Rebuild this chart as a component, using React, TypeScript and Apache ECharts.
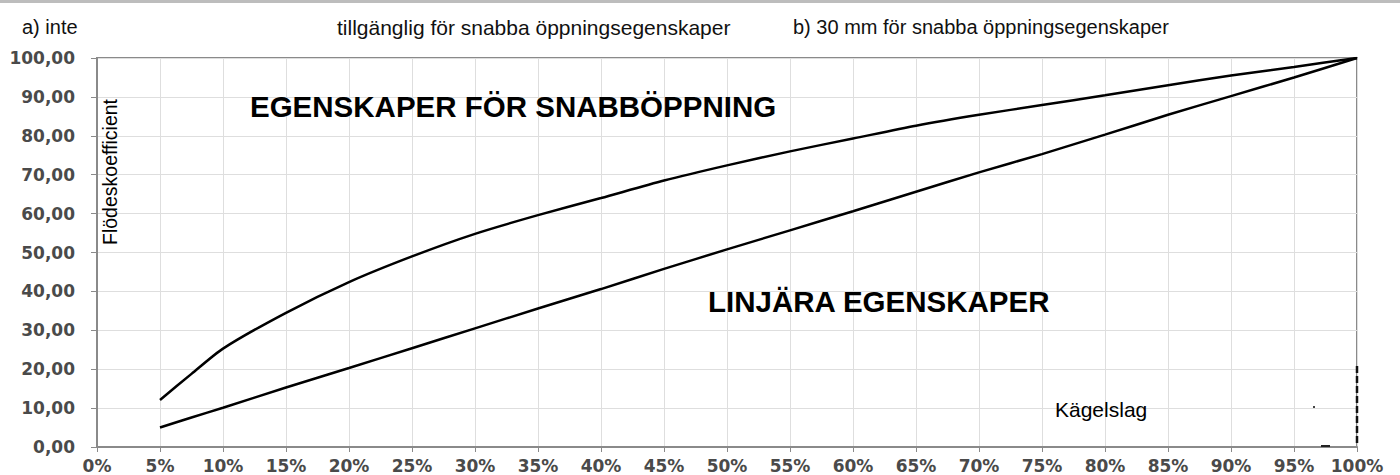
import React, { useEffect, useRef } from "react";
import * as echarts from "echarts";

// Stroke (Kägelslag) in percent
const strokePct = [5, 7.5, 10, 15, 20, 25, 30, 35, 40, 45, 50, 55, 60, 65, 70, 75, 80, 85, 90, 95, 100];
// Quick-opening characteristic (flow coefficient)
const quickOpening = [12.1, 18.8, 25.3, 34.5, 42.4, 49.0, 54.8, 59.6, 64.0, 68.5, 72.4, 76.0, 79.3, 82.6, 85.4, 87.9, 90.4, 93.0, 95.5, 97.7, 100];
// Linear characteristic (flow coefficient)
const linear = [5.0, 7.6, 10.1, 15.3, 20.3, 25.4, 30.5, 35.6, 40.6, 45.8, 50.8, 55.7, 60.6, 65.6, 70.6, 75.3, 80.3, 85.4, 90.2, 95.0, 100];

const yTicks = [0, 10, 20, 30, 40, 50, 60, 70, 80, 90, 100];
const xTicks = [0, 5, 10, 15, 20, 25, 30, 35, 40, 45, 50, 55, 60, 65, 70, 75, 80, 85, 90, 95, 100];

const topTexts = [
  "a) inte",
  "tillgänglig för snabba öppningsegenskaper",
  "b) 30 mm för snabba öppningsegenskaper",
];
const quickLabel = "EGENSKAPER FÖR SNABBÖPPNING";
const linearLabel = "LINJÄRA EGENSKAPER";
const yAxisTitle = "Flödeskoefficient";
const xAxisTitle = "Kägelslag";

const SANS = "'Liberation Sans', Arial, sans-serif";
const TICKFONT = "'DejaVu Sans', Verdana, sans-serif";

export default function App() {
  const ref = useRef<HTMLDivElement>(null);
  useEffect(() => {
    if (!ref.current) return;
    const chart = echarts.init(ref.current, null, { renderer: "svg" });
    const option: any = {
      animation: false,
      backgroundColor: "#ffffff",
      grid: {
        left: 97,
        right: 43,
        top: 58,
        bottom: 28,
        show: true,
        borderColor: "#8a8a8a",
        borderWidth: 2,
        backgroundColor: "transparent",
      },
      xAxis: {
        type: "value",
        min: 0,
        max: 100,
        interval: 5,
        axisLine: { show: true, lineStyle: { color: "#8a8a8a", width: 2 } },
        axisTick: { show: true, length: 5, lineStyle: { color: "#8a8a8a" } },
        splitLine: { show: true, lineStyle: { color: "#dedede", width: 1 } },
        axisLabel: {
          margin: 10,
          color: "#4a4a4a",
          fontFamily: TICKFONT,
          fontWeight: "bold",
          fontSize: 17,
          formatter: (v: number) => (xTicks.includes(v) ? `${v}%` : ""),
        },
      },
      yAxis: {
        type: "value",
        min: 0,
        max: 100,
        interval: 10,
        axisLine: { show: true, lineStyle: { color: "#8a8a8a", width: 2 } },
        axisTick: { show: true, length: 6, lineStyle: { color: "#8a8a8a" } },
        splitLine: { show: true, lineStyle: { color: "#dedede", width: 1 } },
        axisLabel: {
          margin: 22,
          color: "#4a4a4a",
          fontFamily: TICKFONT,
          fontWeight: "bold",
          fontSize: 17,
          formatter: (v: number) => (yTicks.includes(v) ? v.toFixed(2).replace(".", ",") : ""),
        },
      },
      series: [
        {
          name: "Snabböppning",
          type: "line",
          data: strokePct.map((x, i) => [x, quickOpening[i]]),
          smooth: 0.25,
          showSymbol: false,
          lineStyle: { color: "#000", width: 2.5 },
        },
        {
          name: "Linjär",
          type: "line",
          data: strokePct.map((x, i) => [x, linear[i]]),
          smooth: 0.2,
          showSymbol: false,
          lineStyle: { color: "#000", width: 2.5 },
        },
      ],
      graphic: [
        { type: "rect", z: 100, shape: { x: 0, y: 0, width: 1400, height: 3 }, style: { fill: "#bdbdbd" } },
        { type: "text", z: 100, x: 22, y: 27, style: { text: topTexts[0], font: `20px ${SANS}`, fill: "#111", textVerticalAlign: "middle" } },
        { type: "text", z: 100, x: 337, y: 27, style: { text: topTexts[1], font: `21px ${SANS}`, fill: "#111", textVerticalAlign: "middle" } },
        { type: "text", z: 100, x: 793, y: 27, style: { text: topTexts[2], font: `20px ${SANS}`, fill: "#111", textVerticalAlign: "middle" } },
        { type: "text", z: 100, x: 250, y: 106, style: { text: quickLabel, font: `bold 29.5px ${SANS}`, fill: "#000", textVerticalAlign: "middle" } },
        { type: "text", z: 100, x: 708, y: 301, style: { text: linearLabel, font: `bold 29.5px ${SANS}`, fill: "#000", textVerticalAlign: "middle" } },
        {
          type: "text",
          z: 100,
          x: 110,
          y: 172,
          rotation: Math.PI / 2,
          style: { text: yAxisTitle, font: `19.5px ${SANS}`, fill: "#000", textAlign: "center", textVerticalAlign: "middle" },
        },
        { type: "text", z: 100, x: 1055, y: 409, style: { text: xAxisTitle, font: `21px ${SANS}`, fill: "#000", textVerticalAlign: "middle" } },
        { type: "line", z: 100, shape: { x1: 1357, y1: 366, x2: 1357, y2: 446 }, style: { stroke: "#111", lineWidth: 2.5, lineDash: [7, 3] } },
        { type: "line", z: 100, shape: { x1: 1321, y1: 446, x2: 1330, y2: 446 }, style: { stroke: "#222", lineWidth: 2 } },
        { type: "rect", z: 100, shape: { x: 1313, y: 406, width: 2, height: 2 }, style: { fill: "#444" } },
      ],
    };
    chart.setOption(option);
    return () => chart.dispose();
  }, []);
  return (
    <div
      ref={ref}
      style={{ position: "absolute", left: 0, top: 0, width: 1400, height: 475, background: "#fff" }}
    />
  );
}
